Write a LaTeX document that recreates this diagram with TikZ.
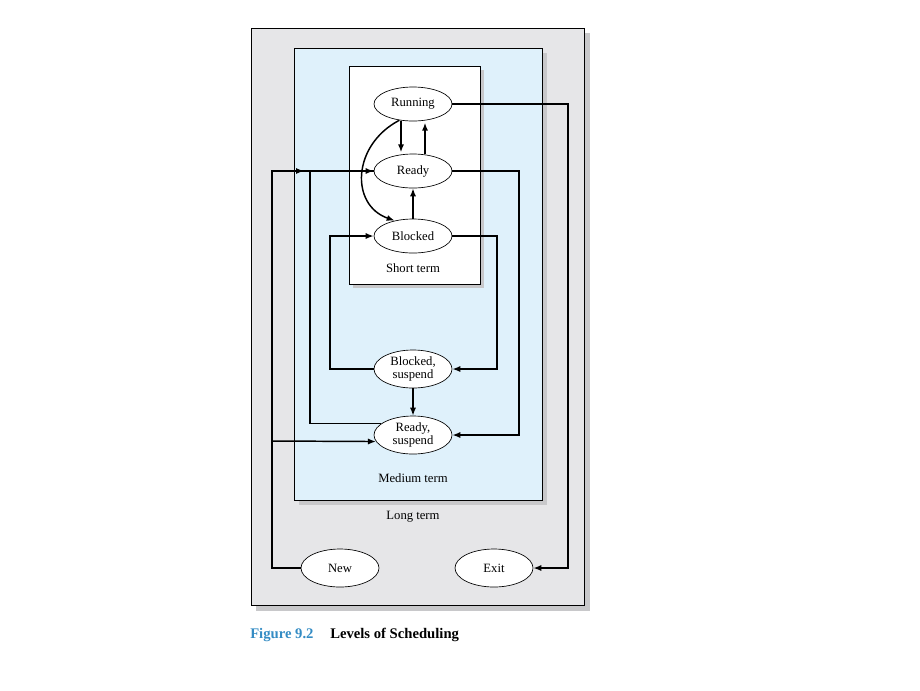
\documentclass[tikz,border=0pt]{standalone}
\usepackage{fontspec}
\setmainfont{Liberation Serif}
\usetikzlibrary{shapes.geometric,arrows.meta}
\definecolor{longfill}{RGB}{230,230,232}
\definecolor{medfill}{RGB}{223,241,251}
\definecolor{shadowc}{RGB}{200,200,202}
\definecolor{capblue}{RGB}{52,140,196}
\tikzset{
  state/.style={ellipse,draw,fill=white,line width=0.5pt,minimum width=58.5pt,minimum height=25.5pt,inner sep=0pt,font=\fontsize{9.5}{10.5}\selectfont,align=center},
  state2/.style={state,minimum height=28.5pt},
  frame/.style={draw=black,line width=0.6pt},
  shadow/.style={fill=shadowc,draw=none},
  arr/.style={line width=1.1pt,-{Latex[length=6pt,width=4.6pt]}},
  ln/.style={line width=1.1pt},
  lbl/.style={font=\fontsize{9.5}{10.5}\selectfont,inner sep=0pt}
}
\begin{document}
\begin{tikzpicture}[x=0.75pt,y=-0.75pt]
\useasboundingbox (0,0) rectangle (920,690);
% boxes with shadows
\path[shadow] (256,33) rectangle (590,611);
\path[fill=longfill,frame] (251,28) rectangle (584,605);
\path[shadow] (299,53) rectangle (547,505);
\path[fill=medfill,frame] (294,48) rectangle (542,500);
\path[shadow] (353,70) rectangle (484,288);
\path[fill=white,frame] (349,66) rectangle (480,284);
% labels
\node[lbl] (st) at (413,268) {Short term};
\node[lbl] (mt) at (413,478) {Medium term};
\node[lbl] (lt) at (413,517) {Long term};
% states
\node[state] (run) at (413,104) {Running};
\node[state] (ready) at (413,171) {Ready};
\node[state] (blk) at (413,236) {Blocked};
\node[state2,font=\fontsize{9.5}{10}\selectfont] (bs) at (413,369) {Blocked,\\suspend};
\node[state2,font=\fontsize{9.5}{10}\selectfont] (rs) at (413,435) {Ready,\\suspend};
\node[state2] (new) at (340,568) {New};
\node[state2] (exit) at (494,568) {Exit};
% connectors
\coordinate (j1) at (272,171);
\coordinate (j2) at (272,441);
\draw[arr] (run.east) -| (568,568) -- (exit.east);
\draw[arr] ([xshift=-9pt]run.south) -- ([xshift=-9pt,yshift=1pt]ready.north);
\draw[arr] ([xshift=9pt]ready.north) -- ([xshift=9pt,yshift=-1pt]run.south);
\draw[arr] (run.230) .. controls (352,145) and (350,205) .. (blk.140);
\draw[arr] (blk.north) -- (ready.south);
\draw[ln] (new.west) -| (j1) -- (ready.west);
\draw[arr] (j1) -- (304,171);
\draw[arr] (rs.160) -| (310,171) -- (ready.west);
\draw[arr] (j2) -- (rs.190);
\draw[arr] (ready.east) -| (519,435) -- (rs.east);
\draw[arr] (blk.east) -| (497,369) -- (bs.east);
\draw[arr] (bs.west) -| (330,236) -- (blk.west);
\draw[arr] (bs.south) -- (rs.north);
% caption
\node[anchor=base west,inner sep=0pt,font=\fontsize{11}{13}\selectfont\bfseries,text=capblue] (fig) at (250,638) {Figure 9.2};
\node[anchor=base west,inner sep=0pt,font=\fontsize{11}{13}\selectfont\bfseries] (cap) at (330,638) {Levels of Scheduling};
\end{tikzpicture}
\end{document}
